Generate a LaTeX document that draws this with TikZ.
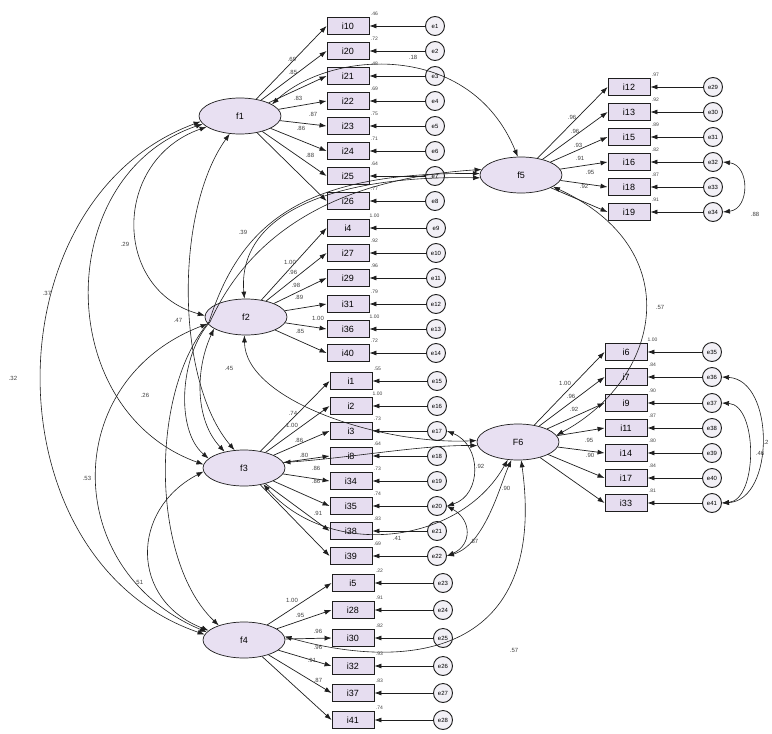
\documentclass[tikz,border=0pt]{standalone}
\usepackage{fontspec}
\setmainfont{Liberation Sans}
\usetikzlibrary{shapes.geometric,arrows.meta}
\definecolor{latfill}{RGB}{232,224,242}
\definecolor{boxfill}{RGB}{230,221,240}
\definecolor{errfill}{RGB}{242,240,246}
\definecolor{ln}{RGB}{30,30,30}
\begin{document}
\begin{tikzpicture}[x=1pt,y=-1pt,
  lat/.style={ellipse,draw=ln,line width=0.7pt,fill=latfill,minimum width=82pt,minimum height=36pt,inner sep=0pt,font=\fontsize{9}{9}\selectfont},
  obs/.style={rectangle,draw=ln,line width=0.9pt,fill=boxfill,minimum width=42pt,minimum height=17pt,inner sep=0pt,font=\fontsize{9}{9}\selectfont},
  err/.style={circle,draw=ln,line width=0.9pt,fill=errfill,minimum size=19pt,inner sep=0pt,font=\fontsize{6}{6}\selectfont},
  arr/.style={draw=ln,line width=0.7pt,-{Latex[length=7pt,width=5pt]}},
  cov/.style={draw=ln,line width=0.6pt,{Latex[length=7pt,width=5pt]}-{Latex[length=7pt,width=5pt]}},
  lbl/.style={font=\fontsize{6}{6}\selectfont,text=black!75,inner sep=0pt},
  rsq/.style={font=\fontsize{5}{5}\selectfont,text=black!75,inner sep=0pt}]
\useasboundingbox (0,0) rectangle (772,734);
\fill[white] (0,0) rectangle (772,734);

% latent factors
\node[lat] (f1) at (240,116) {f1};
\node[lat] (f2) at (246,317) {f2};
\node[lat] (f3) at (244,468) {f3};
\node[lat] (f4) at (244,640) {f4};
\node[lat] (f5) at (521,175) {f5};
\node[lat] (F6) at (518,442) {F6};

% indicators, errors, loadings
\foreach \n/\y/\e/\r in {10/26/1/.46,20/51/2/.72,21/76/3/.48,22/101/4/.69,23/126/5/.75,24/151/6/.71,25/176/7/.64,26/201/8/.77}{
  \node[obs] (b\n) at (348,\y) {i\n};
  \node[err] (e\e) at (435,\y) {e\e};
  \node[rsq] at ([xshift=5pt,yshift=3.5pt]b\n.north east) {\r};
  \draw[arr] (e\e) -- (b\n);
  \draw[arr] (f1) -- (b\n.west);
}
\foreach \n/\y/\e/\r in {4/228/9/1.00,27/253/10/.92,29/278/11/.96,31/304/12/.79,36/329/13/1.00,40/353/14/.72}{
  \node[obs] (b\n) at (348,\y) {i\n};
  \node[err] (e\e) at (436,\y) {e\e};
  \node[rsq] at ([xshift=5pt,yshift=3.5pt]b\n.north east) {\r};
  \draw[arr] (e\e) -- (b\n);
  \draw[arr] (f2) -- (b\n.west);
}
\foreach \n/\y/\e/\r in {1/381/15/.55,2/406/16/1.00,3/431/17/.73,8/456/18/.64,34/481/19/.73,35/506/20/.74,38/531/21/.83,39/556/22/.69}{
  \node[obs] (b\n) at (351,\y) {i\n};
  \node[err] (e\e) at (437,\y) {e\e};
  \node[rsq] at ([xshift=5pt,yshift=3.5pt]b\n.north east) {\r};
  \draw[arr] (e\e) -- (b\n);
  \draw[arr] (f3) -- (b\n.west);
}
\foreach \n/\y/\e/\r in {5/583/23/.22,28/610/24/.91,30/638/25/.82,32/666/26/.93,37/693/27/.83,41/720/28/.74}{
  \node[obs] (b\n) at (353,\y) {i\n};
  \node[err] (e\e) at (443,\y) {e\e};
  \node[rsq] at ([xshift=5pt,yshift=3.5pt]b\n.north east) {\r};
  \draw[arr] (e\e) -- (b\n);
  \draw[arr] (f4) -- (b\n.west);
}
\foreach \n/\y/\e/\r in {12/87/29/.97,13/112/30/.92,15/137/31/.89,16/162/32/.82,18/187/33/.87,19/212/34/.91}{
  \node[obs] (b\n) at (629,\y) {i\n};
  \node[err] (e\e) at (713,\y) {e\e};
  \node[rsq] at ([xshift=5pt,yshift=3.5pt]b\n.north east) {\r};
  \draw[arr] (e\e) -- (b\n);
  \draw[arr] (f5) -- (b\n.west);
}
\foreach \n/\y/\e/\r in {6/352/35/1.00,7/377/36/.84,9/403/37/.90,11/428/38/.87,14/453/39/.80,17/478/40/.84,33/503/41/.81}{
  \node[obs] (b\n) at (626,\y) {i\n};
  \node[err] (e\e) at (712,\y) {e\e};
  \node[rsq] at ([xshift=5pt,yshift=3.5pt]b\n.north east) {\r};
  \draw[arr] (e\e) -- (b\n);
  \draw[arr] (F6) -- (b\n.west);
}

% loading labels
\foreach \x/\y/\t in {292/59/.69,293/72/.85,298/98/.83,313/114/.87,301/128/.86,310/155/.88,
  290/262/1.00,293/272/.96,296/285/.98,299/297/.89,318/318/1.00,300/331/.85,
  293/413/.74,292/425/1.00,299/440/.86,304/455/.80,316/468/.86,316/481/.86,318/513/.91,
  292/600/1.00,300/615/.95,318/631/.96,318/647/.96,312/660/.91,318/680/.87,
  572/117/.96,575/131/.96,578/145/.93,580/158/.91,590/172/.95,584/186/.92,
  565/383/1.00,571/396/.96,574/409/.92,589/440/.95,590/455/.90}{
  \node[lbl] at (\x,\y) {\t};
}

% factor covariances
\draw[cov] (f1.188) .. controls (-12,200) and (-12,560) .. (f4.172);
\draw[cov] (f1.192) .. controls (52,175) and (52,410) .. (f3.175);
\draw[cov] (f1.198) .. controls (112,160) and (112,290) .. (f2.178);
\draw[cov] (f1.240) .. controls (175,210) and (175,380) .. (f3.118);
\draw[cov] (f2.190) .. controls (60,380) and (60,570) .. (f4.168);
\draw[cov] (f3.185) .. controls (130,510) and (130,600) .. (f4.165);
\draw[cov] (f2.200) .. controls (195,370) and (195,420) .. (f3.140);
\draw[cov] (f4.150) .. controls (150,560) and (150,390) .. (209,322) .. controls (240,225) and (300,172) .. (f5.178);
\draw[cov] (f3.165) .. controls (175,430) and (180,355) .. (210,322) .. controls (245,245) and (320,180) .. (f5.172);
\draw[cov] (f5.184) .. controls (330,175) and (237,215) .. (f2.95);
\draw[cov] (f1.20) .. controls (330,50) and (470,40) .. (f5.100);
\draw[cov] (f5.-20) .. controls (690,250) and (660,380) .. (F6.10);
\draw[cov] (f4.5) .. controls (410,672) and (548,655) .. (F6.-80);
\draw[cov] (f2.265) .. controls (245,400) and (380,445) .. (F6.178);
\draw[cov] (f3.8) .. controls (350,458) and (420,445) .. (F6.185);
\draw[cov] (f3.-40) .. controls (330,560) and (460,545) .. (F6.-120);

% error covariances
\draw[cov] (e17.east) .. controls (482,445) and (482,495) .. (e20.east);
\draw[cov] (e20.east) .. controls (472,520) and (472,545) .. (e22.east);
\draw[cov] (e22.east) .. controls (485,545) and (500,485) .. (F6.-110);
\draw[cov] (e32.east) .. controls (750,165) and (750,209) .. (e34.east);
\draw[cov] (e36.east) .. controls (775,380) and (775,500) .. (e41.east);
\draw[cov] (e37.east) .. controls (758,405) and (758,500) .. (e41.east);

% covariance labels
\foreach \x/\y/\t in {13/378/.32,47/293/.37,125/244/.29,87/478/.53,139/582/.51,145/395/.26,178/320/.47,
  243/232/.39,413/57/.18,660/307/.57,514/650/.57,229/368/.45,397/538/.41,
  480/466/.92,474/541/.87,506/488/.90,755/214/.88,766/442/.2,760/453/.46}{
  \node[lbl] at (\x,\y) {\t};
}
\end{tikzpicture}
\end{document}
